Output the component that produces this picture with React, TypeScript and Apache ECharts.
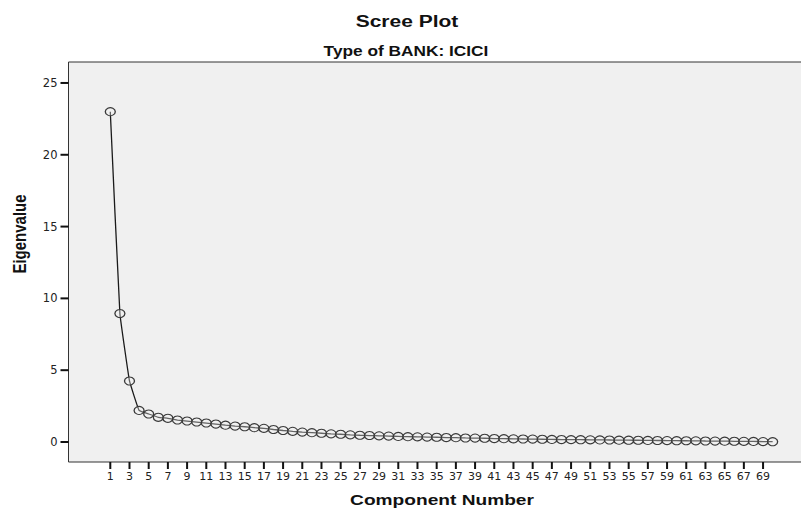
import React, { useEffect, useRef } from "react";
import * as echarts from "echarts";

const components: number[] = Array.from({ length: 70 }, (_, i) => i + 1);
const eigenvalues: number[] = [
  23.0, 8.95, 4.25, 2.2, 1.95, 1.72, 1.65, 1.53, 1.46, 1.39,
  1.32, 1.25, 1.17, 1.11, 1.06, 1.0, 0.95, 0.87, 0.8, 0.74,
  0.69, 0.65, 0.61, 0.57, 0.54, 0.5, 0.47, 0.45, 0.43, 0.41,
  0.39, 0.37, 0.36, 0.34, 0.33, 0.31, 0.3, 0.28, 0.27, 0.26,
  0.24, 0.23, 0.22, 0.21, 0.2, 0.19, 0.18, 0.17, 0.165, 0.16,
  0.15, 0.145, 0.14, 0.13, 0.125, 0.12, 0.11, 0.105, 0.1, 0.09,
  0.085, 0.08, 0.07, 0.065, 0.06, 0.05, 0.045, 0.04, 0.03, 0.02,
];
const xTicks: number[] = [
  1, 3, 5, 7, 9, 11, 13, 15, 17, 19, 21, 23, 25, 27, 29, 31, 33, 35,
  37, 39, 41, 43, 45, 47, 49, 51, 53, 55, 57, 59, 61, 63, 65, 67, 69,
];
const yTicks: number[] = [0, 5, 10, 15, 20, 25];

const titleText = "Scree Plot";
const subtitleText = "Type of BANK: ICICI";
const xName = "Component Number";
const yName = "Eigenvalue";

const X_MIN = -3.354;
const X_MAX = 73.89;
const Y_MIN = -1.393;
const Y_MAX = 26.46;

export default function App() {
  const ref = useRef<HTMLDivElement>(null);
  useEffect(() => {
    if (!ref.current) return;
    const chart = echarts.init(ref.current, undefined, { renderer: "svg" });
    const font = "'Liberation Sans', Arial, sans-serif";
    const sx = 1.235;
    const textGraphics: any[] = [
      {
        type: "text",
        x: 407,
        y: 21,
        scaleX: sx,
        style: {
          text: titleText,
          fontSize: 17,
          fontWeight: "bold",
          fontFamily: font,
          fill: "#111",
          textAlign: "center",
          textVerticalAlign: "middle",
        },
      },
      {
        type: "text",
        x: 406,
        y: 51,
        scaleX: sx,
        style: {
          text: subtitleText,
          fontSize: 14,
          fontWeight: "bold",
          fontFamily: font,
          fill: "#111",
          textAlign: "center",
          textVerticalAlign: "middle",
        },
      },
      {
        type: "text",
        x: 442,
        y: 500,
        scaleX: sx,
        style: {
          text: xName,
          fontSize: 15.5,
          fontWeight: "bold",
          fontFamily: font,
          fill: "#111",
          textAlign: "center",
          textVerticalAlign: "middle",
        },
      },
      {
        type: "text",
        x: 20,
        y: 234,
        rotation: Math.PI / 2,
        scaleY: sx,
        style: {
          text: yName,
          fontSize: 15,
          fontWeight: "bold",
          fontFamily: font,
          fill: "#111",
          textAlign: "center",
          textVerticalAlign: "middle",
        },
      },
    ];
    chart.setOption({
      animation: false,
      backgroundColor: "#ffffff",
      grid: {
        left: 68.5,
        top: 62,
        right: 10,
        bottom: 46,
        show: true,
        backgroundColor: "#f0f0f0",
        borderColor: "#333",
        borderWidth: 1,
      },
      xAxis: {
        type: "value",
        min: X_MIN,
        max: X_MAX,
        splitLine: { show: false },
        axisLine: { show: false, onZero: false },
        axisTick: { show: false },
        axisLabel: {
          customValues: xTicks,
          margin: 9,
          fontSize: 11,
          fontFamily: "'DejaVu Sans', sans-serif",
          color: "#222",
        },
      },
      yAxis: {
        type: "value",
        min: Y_MIN,
        max: Y_MAX,
        splitLine: { show: false },
        axisLine: { show: false, onZero: false },
        axisTick: { show: false },
        axisLabel: {
          customValues: yTicks,
          margin: 11,
          fontSize: 11.5,
          fontFamily: "'DejaVu Sans', sans-serif",
          color: "#222",
        },
      },
      graphic: textGraphics,
      series: [
        {
          type: "line",
          data: components.map((c, i) => [c, eigenvalues[i]]),
          smooth: 0.08,
          symbol: "circle",
          symbolSize: [10, 8],
          showAllSymbol: true,
          lineStyle: { color: "#1a1a1a", width: 1.3 },
          itemStyle: {
            color: "rgba(240,240,240,0.35)",
            borderColor: "#3a3a3a",
            borderWidth: 1.2,
          },
        },
      ],
    });
    const tickGraphics: any[] = [];
    xTicks.forEach((v) => {
      const p = chart.convertToPixel({ gridIndex: 0 }, [v, Y_MIN]) as number[];
      tickGraphics.push({
        type: "line",
        silent: true,
        shape: { x1: p[0], y1: p[1], x2: p[0], y2: p[1] + 7 },
        style: { stroke: "#111", lineWidth: 2 },
      });
    });
    yTicks.forEach((v) => {
      const p = chart.convertToPixel({ gridIndex: 0 }, [X_MIN, v]) as number[];
      tickGraphics.push({
        type: "line",
        silent: true,
        shape: { x1: p[0] - 8, y1: p[1], x2: p[0], y2: p[1] },
        style: { stroke: "#111", lineWidth: 2 },
      });
    });
    chart.setOption({ graphic: [...textGraphics, ...tickGraphics] });
    return () => chart.dispose();
  }, []);
  return (
    <div
      ref={ref}
      style={{ position: "fixed", left: 0, top: 0, width: 820, height: 508 }}
    />
  );
}
